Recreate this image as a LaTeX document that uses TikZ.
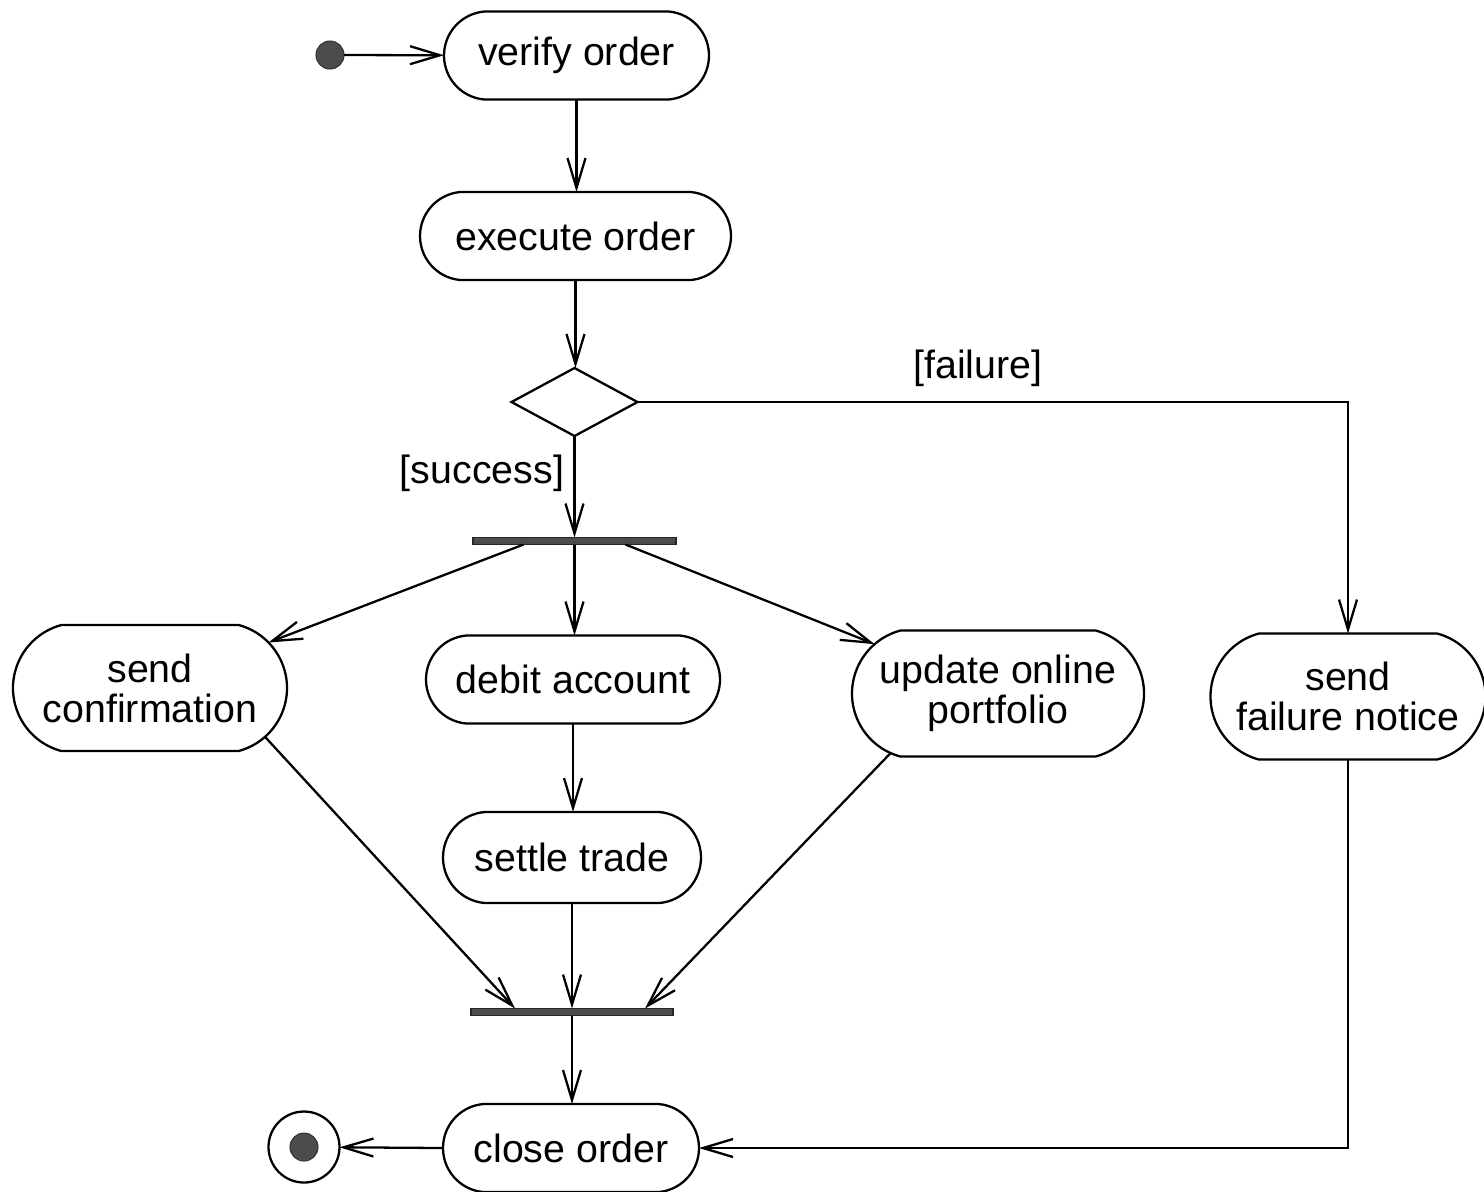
\documentclass[tikz,border=0pt]{standalone}
\usepackage{fontspec}
\setmainfont{Liberation Sans}
\usetikzlibrary{shapes.misc,shapes.geometric,arrows.meta}
\begin{document}
\begin{tikzpicture}[
  font=\fontsize{11.2}{11.4}\selectfont,
  line width=0.65pt,
  every node/.style={inner sep=0pt, outer sep=0pt},
  act/.style={draw, rounded rectangle, rounded rectangle arc length=170, minimum height=0.88cm, align=center},
  act2/.style={act, rounded rectangle arc length=150, minimum height=1.26cm},
  bar/.style={draw=black!85, fill=black!70, rectangle, minimum height=0.07cm, line width=0.3pt},
  flow/.style={-{Straight Barb[length=3mm,width=1.8mm]}},
  dot/.style={circle, fill=black!70, draw=black!80, line width=0.3pt, minimum size=2.8mm}
]
\useasboundingbox (0,-11.91) rectangle (14.84,0);
\node[dot] (init) at (3.30,-0.55) {};
\node[act, minimum width=2.65cm] (verify) at (5.765,-0.555) {verify order};
\node[act, minimum width=3.11cm] (execute) at (5.755,-2.36) {execute order};
\node[draw, diamond, minimum width=1.26cm, minimum height=0.68cm] (dia) at (5.745,-4.02) {};
\node[bar, minimum width=2.03cm] (fork) at (5.745,-5.41) {};
\node[act2, minimum width=2.74cm] (conf) at (1.50,-6.88) {send\\confirmation};
\node[act, minimum width=2.94cm] (debit) at (5.73,-6.795) {debit account};
\node[act2, minimum width=2.92cm] (upd) at (9.98,-6.935) {update online\\portfolio};
\node[act2, minimum width=2.75cm] (fail) at (13.48,-6.965) {send\\failure notice};
\node[act, minimum width=2.58cm, minimum height=0.91cm] (settle) at (5.72,-8.575) {settle trade};
\node[bar, minimum width=2.02cm] (join) at (5.72,-10.12) {};
\node[act, minimum width=2.56cm] (close) at (5.71,-11.48) {close order};
\node[circle, draw, minimum size=7.1mm] (final) at (3.04,-11.47) {};
\node[dot] (finaldot) at (final) {};
\node (failurelbl) at (9.78,-3.68) {[failure]};
\node (successlbl) at (4.82,-4.73) {[success]};

\draw[flow] (init) -- (verify);
\draw[flow] (verify.south) -- (verify.south |- execute.north);
\draw[flow] (execute.south) -- (execute.south |- dia.north);
\draw[flow] (dia.south) -- (dia.south |- fork.north);
\draw[flow] (dia.east) -| (fail.north);
\draw[flow] ([xshift=-5.1mm]fork.south) -- (conf);
\draw[flow] (fork.south) -- (fork.south |- debit.north);
\draw[flow] ([xshift=5.1mm]fork.south) -- (upd);
\draw[flow] (debit.south) -- (debit.south |- settle.north);
\draw[flow] (conf.-23) -- ([xshift=-5.7mm]join.north);
\draw[flow] (settle.south) -- (settle.south |- join.north);
\draw[flow] (upd.-151) -- ([xshift=7.3mm]join.north);
\draw[flow] (join.south) -- (join.south |- close.north);
\draw[flow] (fail.south) |- (close.east);
\draw[flow] (close.west) -- (final);
\end{tikzpicture}
\end{document}
